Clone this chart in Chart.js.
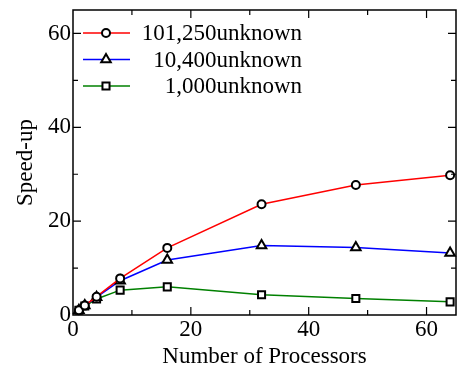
<!DOCTYPE html>
<html>
<head>
<meta charset="utf-8">
<script src="https://cdn.jsdelivr.net/npm/chart.js@4/dist/chart.umd.min.js"></script>
<style>
  html, body { margin: 0; padding: 0; background: #fff; }
  #wrap { width: 457px; height: 379px; }
</style>
</head>
<body>
<div id="wrap"><canvas id="myChart"></canvas></div>
<script>
const processors = [1, 2, 4, 8, 16, 32, 48, 64];
const speedup101250 = [1, 2, 3.9, 7.8, 14.3, 23.6, 27.7, 29.8];
const speedup10400 = [1, 2, 3.8, 7.3, 11.7, 14.8, 14.4, 13.2];
const speedup1000 = [1, 1.9, 3.4, 5.3, 6.0, 4.3, 3.5, 2.8];
const seriesLabels = ["101,250unknown", "10,400unknown", "1,000unknown"];
const xTicks = [0, 20, 40, 60];
const yTicks = [0, 20, 40, 60];

const FONT = "'Liberation Serif', 'Times New Roman', Times, serif";
const FS = 23;

const toPoints = (ys) => processors.map((x, i) => ({ x: x, y: ys[i] }));

const makeSet = (label, ys, color, style, radius) => ({
    label: label,
    data: toPoints(ys),
    borderColor: color,
    borderWidth: 1.5,
    pointStyle: style,
    pointRadius: radius,
    pointBackgroundColor: "#fff",
    pointBorderColor: "#000",
    pointBorderWidth: 2,
    clip: false,
});

// box with inward ticks on all four sides, minor every 10
const frame = {
    id: "frame",
    afterDraw(chart) {
        const { ctx, chartArea: a, scales } = chart;
        ctx.save();
        ctx.strokeStyle = "#000";
        ctx.lineWidth = 1.5;
        ctx.strokeRect(a.left, a.top, a.right - a.left, a.bottom - a.top);
        ctx.lineWidth = 1.2;
        ctx.beginPath();
        for (let v = 10; v < 65; v += 10) {
            const len = v % 20 === 0 ? 8 : 5;
            const px = scales.x.getPixelForValue(v);
            ctx.moveTo(px, a.bottom); ctx.lineTo(px, a.bottom - len);
            ctx.moveTo(px, a.top); ctx.lineTo(px, a.top + len);
            const py = scales.y.getPixelForValue(v);
            ctx.moveTo(a.left, py); ctx.lineTo(a.left + len, py);
            ctx.moveTo(a.right, py); ctx.lineTo(a.right - len, py);
        }
        ctx.stroke();
        ctx.restore();
    }
};

const legendBox = {
    id: "legendBox",
    afterDraw(chart) {
        const { ctx } = chart;
        ctx.save();
        ctx.font = FS + "px " + FONT;
        ctx.textAlign = "right";
        ctx.textBaseline = "middle";
        chart.data.datasets.forEach((ds, i) => {
            const y = 33 + i * 26.5;
            ctx.strokeStyle = ds.borderColor;
            ctx.lineWidth = 1.5;
            ctx.beginPath();
            ctx.moveTo(83, y); ctx.lineTo(130, y);
            ctx.stroke();
            ctx.fillStyle = "#fff";
            ctx.strokeStyle = "#000";
            ctx.lineWidth = 2;
            Chart.helpers.drawPoint(ctx, { pointStyle: ds.pointStyle, radius: ds.pointRadius, rotation: 0, borderWidth: 2 }, 106, y);
            ctx.fillStyle = "#000";
            ctx.fillText(ds.label, 302, y + 1);
        });
        ctx.restore();
    }
};

const noPad = (s) => { s.paddingTop = 0; s.paddingBottom = 0; s.paddingLeft = 0; s.paddingRight = 0; };

function draw() {
    new Chart(document.getElementById("myChart"), {
        type: "line",
        data: {
            datasets: [
                makeSet(seriesLabels[0], speedup101250, "#ff0000", "circle", 4),
                makeSet(seriesLabels[1], speedup10400, "#0000ff", "triangle", 5.5),
                makeSet(seriesLabels[2], speedup1000, "#008000", "rect", 5),
            ]
        },
        options: {
            responsive: true,
            maintainAspectRatio: false,
            animation: false,
            layout: { autoPadding: false, padding: { top: 10, right: 1, left: 0, bottom: 8 } },
            plugins: { legend: { display: false }, tooltip: { enabled: false } },
            scales: {
                x: {
                    type: "linear",
                    min: 0,
                    max: 65,
                    grid: { display: false, drawTicks: false },
                    border: { display: false },
                    afterBuildTicks: (s) => { s.ticks = xTicks.map(v => ({ value: v })); },
                    afterFit: (s) => { s.height = 379 - 315 - 8; noPad(s); },
                    ticks: { color: "#000", padding: 1, maxRotation: 0, font: { family: FONT, size: FS } },
                    title: { display: true, text: "Number of Processors", color: "#000", padding: 0, font: { family: FONT, size: FS } },
                },
                y: {
                    min: 0,
                    max: 65,
                    grid: { display: false, drawTicks: false },
                    border: { display: false },
                    afterBuildTicks: (s) => { s.ticks = yTicks.map(v => ({ value: v })); },
                    afterFit: (s) => { s.width = 73; noPad(s); },
                    ticks: { color: "#000", padding: 2, font: { family: FONT, size: FS } },
                    title: { display: true, text: "Speed-up", color: "#000", padding: { top: 12, bottom: 0 }, font: { family: FONT, size: FS } },
                }
            }
        },
        plugins: [frame, legendBox]
    });
}

draw();
</script>
</body>
</html>
